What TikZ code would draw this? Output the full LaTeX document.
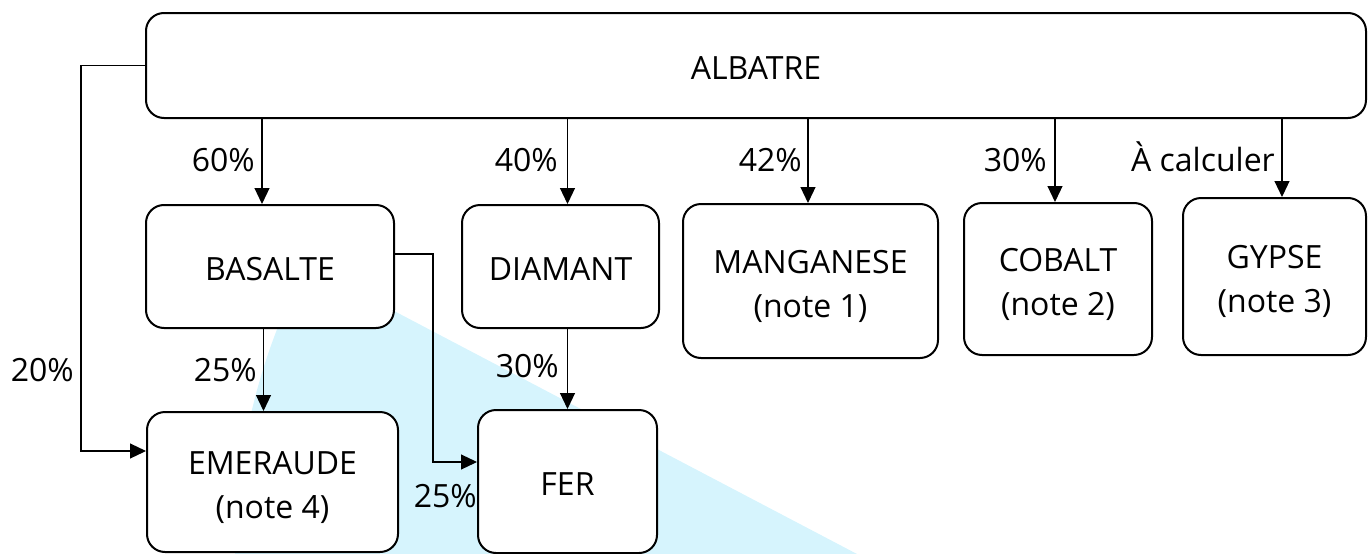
\documentclass[tikz,border=0pt]{standalone}
\usepackage{fontspec}
\setmainfont{Open Sans}
\usetikzlibrary{arrows.meta}
\definecolor{lblue}{RGB}{214,244,253}
\begin{document}
\begin{tikzpicture}[x=1pt,y=-1pt,
  txt/.style={font=\fontsize{32}{44}\selectfont},
  box/.style={txt,draw,line width=2pt,rounded corners=18pt,fill=white,align=center,inner sep=0pt,text height=27pt,text depth=0pt},
  twoline/.style={text height=80pt,text depth=8pt},
  arr/.style={line width=1.2pt,-{Triangle[length=16pt,width=15pt]}},
  lab/.style={txt,inner sep=0pt,anchor=base east}]
\useasboundingbox (0,0) rectangle (1368,554);
\fill[lblue] (857,554) -- ++(180:622) arc[start angle=180,end angle=207.7,radius=622] -- cycle;

\node[box,minimum width=1220pt,minimum height=105pt] (albatre) at (756,65.5) {ALBATRE};
\node[box,minimum width=248pt,minimum height=123pt] (basalte) at (270,266.5) {BASALTE};
\node[box,minimum width=197pt,minimum height=123pt] (diamant) at (560.5,266.5) {DIAMANT};
\node[box,twoline,minimum width=255pt,minimum height=154pt] (manganese) at (810.5,281) {MANGANESE\\(note 1)};
\node[box,twoline,minimum width=188pt,minimum height=152pt] (cobalt) at (1058,279) {COBALT\\(note 2)};
\node[box,twoline,minimum width=183pt,minimum height=157pt] (gypse) at (1274.5,276.5) {GYPSE\\(note 3)};
\node[box,twoline,minimum width=251pt,minimum height=140pt] (emeraude) at (272.5,482) {EMERAUDE\\(note 4)};
\node[box,minimum width=179pt,minimum height=143pt] (fer) at (567.5,481.5) {FER};

\coordinate (b1) at ([xshift=-8pt]basalte.north);
\draw[arr] (b1 |- albatre.south) -- (b1);
\draw[arr] (fer.north |- albatre.south) -- (fer.north |- diamant.north);
\coordinate (m1) at ([xshift=-2.5pt]manganese.north);
\draw[arr] (m1 |- albatre.south) -- (m1);
\coordinate (c1) at ([xshift=-3pt]cobalt.north);
\draw[arr] (c1 |- albatre.south) -- (c1);
\coordinate (g1) at ([xshift=7.5pt]gypse.north);
\draw[arr] (g1 |- albatre.south) -- (g1);
\coordinate (e1) at ([xshift=-9pt]emeraude.north);
\draw[arr] (e1 |- basalte.south) -- (e1);
\draw[arr] (fer.north |- diamant.south) -- (fer.north);
\coordinate (e2) at ([yshift=31pt]emeraude.west);
\coordinate (k1) at (81,0);
\draw[arr] (albatre.west) -- (albatre.west -| k1) |- (e2);
\coordinate (b2) at ([yshift=12.5pt]basalte.east);
\coordinate (f2) at ([yshift=19.5pt]fer.west);
\coordinate (k2) at (433,0);
\draw[arr] (b2) -- (b2 -| k2) |- (f2);

\node[lab] (l60) at (255,171) {60\%};
\node[lab] (l40) at (558,171) {40\%};
\node[lab] (l42) at (802,171) {42\%};
\node[lab] (l30a) at (1047,171) {30\%};
\node[lab] (lcalc) at (1275,171) {À calculer};
\node[lab] (l25a) at (257,381) {25\%};
\node[lab] (l30b) at (559,377) {30\%};
\node[lab] (l20) at (74,381) {20\%};
\node[lab] (l25b) at (477,507) {25\%};
\end{tikzpicture}
\end{document}
